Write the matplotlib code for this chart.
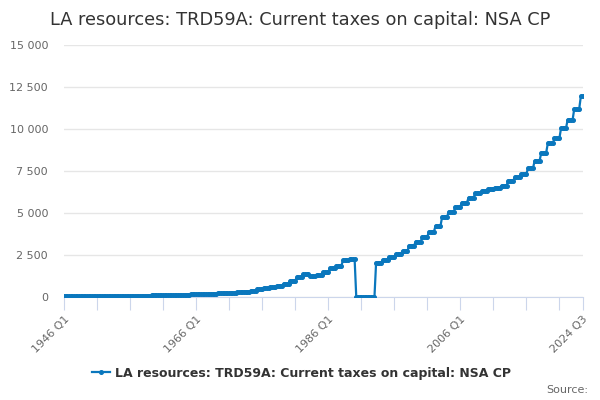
import matplotlib
matplotlib.use("Agg")
import matplotlib.pyplot as plt
from matplotlib.ticker import FuncFormatter

# valeurs par exercice (avril -> mars)
exercices = list(range(1945, 2025))
valeurs_exercice = [
    70,                                                   # 1945
    70, 72, 74, 76, 78, 80, 83, 86, 89, 92,               # 1946-1955
    96, 100, 105, 112, 120, 128, 138, 150, 162, 175,      # 1956-1965
    188, 198, 208, 230, 250, 275, 305, 340, 390, 470,     # 1966-1975
    535, 600, 680, 810, 990, 1190, 1360, 1260, 1320, 1480,  # 1976-1985
    1720, 1880, 2220, 2260, 0, 0, 0, 2050, 2220, 2380,    # 1986-1995
    2570, 2750, 3070, 3310, 3600, 3900, 4240, 4790, 5090, 5390,  # 1996-2005
    5630, 5920, 6180, 6320, 6440, 6520, 6640, 6930, 7130, 7330,  # 2006-2015
    7670, 8100, 8600, 9150, 9450, 10050, 10550, 11200, 11950,    # 2016-2024
]
# nombre de trimestres de chaque exercice dans la serie (1946 Q1 ... 2024 Q3)
nb_trimestres = [1] + [4] * 78 + [2]

trimestres = []
for annee in range(1946, 2025):
    for q in range(1, 5):
        trimestres.append(f"{annee} Q{q}")
trimestres = trimestres[:trimestres.index("2024 Q3") + 1]

valeurs = []
for v, n in zip(valeurs_exercice, nb_trimestres):
    valeurs += [v] * n

titre = "LA resources: TRD59A: Current taxes on capital: NSA CP"
couleur = "#0a77bd"

fig = plt.figure(figsize=(6, 4), dpi=100)
ax = fig.add_axes([64 / 600, 1 - 297.3 / 400, (582.5 - 64) / 600, (297.3 - 45) / 400])

x = list(range(len(valeurs)))
ax.plot(x, valeurs, "-o", color=couleur, lw=1.6, ms=2.6, label=titre, zorder=3)

ax.set_xlim(0, len(valeurs) - 1)
ax.set_ylim(0, 15000)
ax.set_yticks([0, 2500, 5000, 7500, 10000, 12500, 15000])
ax.yaxis.set_major_formatter(FuncFormatter(lambda v, p: f"{int(v):,}".replace(",", " ")))
ax.grid(axis="y", color="#e6e6e6", lw=1)
ax.set_axisbelow(True)

pos_ticks = list(range(0, len(valeurs), 20)) + [len(valeurs) - 1]
labels = [trimestres[i] if (i % 80 == 0 or i == len(valeurs) - 1) else "" for i in pos_ticks]
ax.set_xticks(pos_ticks)
ax.set_xticklabels(labels, rotation=45, ha="right", rotation_mode="anchor")

for s in ["top", "right", "left"]:
    ax.spines[s].set_visible(False)
ax.spines["bottom"].set_color("#ccd6eb")
ax.tick_params(axis="x", colors="#666666", labelsize=8, length=9, color="#ccd6eb", pad=3)
ax.tick_params(axis="y", colors="#666666", labelsize=8, length=0, pad=11.5)

fig.text(0.5, 0.95, titre, ha="center", va="center", fontsize=12.8, color="#333333")
fig.legend(loc="center", bbox_to_anchor=(0.5025, 0.0675), frameon=False,
           prop={"weight": "bold", "size": 9}, labelcolor="#333333",
           handlelength=1.4, handletextpad=0.4)
fig.text(0.98, 0.025, "Source:", ha="right", va="center", fontsize=8, color="#666666")

fig.savefig("out.png", dpi=100)
